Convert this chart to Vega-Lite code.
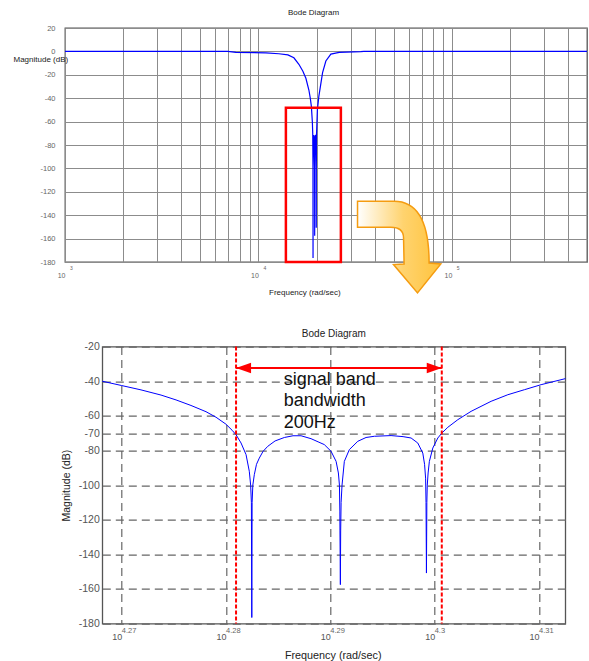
{
  "$schema": "https://vega.github.io/schema/vega-lite/v6.json",
  "background": "white",
  "padding": {"left": 12, "top": 7, "right": 2, "bottom": 2},
  "config": {
    "font": "Liberation Sans",
    "view": {"stroke": "#555555", "strokeWidth": 1.3},
    "axis": {"domain": false, "ticks": false, "tickSize": 0, "labelFlush": false, "labelOverlap": false, "titleFontWeight": "normal", "tickCount": 100},
    "title": {"fontWeight": "normal"}
  },
  "datasets": {
    "topCurve": [
      {"logw": 3.0, "db": 0}, {"logw": 3.8424, "db": 0}, {"logw": 3.8837, "db": -0.8}, {"logw": 4.0388, "db": -1.2},
      {"logw": 4.1059, "db": -2}, {"logw": 4.1525, "db": -3}, {"logw": 4.1835, "db": -5.5}, {"logw": 4.2093, "db": -11},
      {"logw": 4.23, "db": -17}, {"logw": 4.2455, "db": -23}, {"logw": 4.261, "db": -33}, {"logw": 4.2682, "db": -40},
      {"logw": 4.2739, "db": -47}, {"logw": 4.279, "db": -60.5}, {"logw": 4.2809, "db": -70}, {"logw": 4.2822, "db": -100},
      {"logw": 4.28247, "db": -176.5}, {"logw": 4.2828, "db": -100}, {"logw": 4.2845, "db": -75}, {"logw": 4.2865, "db": -71.5},
      {"logw": 4.2885, "db": -74}, {"logw": 4.2906, "db": -100}, {"logw": 4.29096, "db": -157.5}, {"logw": 4.2913, "db": -100},
      {"logw": 4.2935, "db": -73}, {"logw": 4.296, "db": -71.4}, {"logw": 4.298, "db": -74}, {"logw": 4.299, "db": -100},
      {"logw": 4.29921, "db": -150.8}, {"logw": 4.2995, "db": -100}, {"logw": 4.3007, "db": -70}, {"logw": 4.3049, "db": -50},
      {"logw": 4.3125, "db": -38.5}, {"logw": 4.3318, "db": -18.2}, {"logw": 4.3488, "db": -8.2}, {"logw": 4.3747, "db": -2.3},
      {"logw": 4.4176, "db": -0.8}, {"logw": 4.5297, "db": -0.2}, {"logw": 4.5452, "db": 0}, {"logw": 5.699, "db": 0}
    ],
    "bottomCurve": [
      {"logw": 4.26814, "db": -40}, {"logw": 4.27, "db": -42.5}, {"logw": 4.27185, "db": -45}, {"logw": 4.27377, "db": -48},
      {"logw": 4.27521, "db": -50.8}, {"logw": 4.27664, "db": -54}, {"logw": 4.27808, "db": -57.6}, {"logw": 4.27904, "db": -60.8},
      {"logw": 4.27999, "db": -64.8}, {"logw": 4.28058, "db": -68.3}, {"logw": 4.28096, "db": -70.9}, {"logw": 4.28144, "db": -75.7},
      {"logw": 4.28192, "db": -82.4}, {"logw": 4.28223, "db": -92}, {"logw": 4.28236, "db": -100}, {"logw": 4.28243, "db": -110},
      {"logw": 4.28247, "db": -176.5}, {"logw": 4.2825, "db": -110}, {"logw": 4.28257, "db": -100}, {"logw": 4.28271, "db": -94},
      {"logw": 4.28292, "db": -88}, {"logw": 4.28319, "db": -84.4}, {"logw": 4.28355, "db": -80.5}, {"logw": 4.284, "db": -77.6},
      {"logw": 4.2847, "db": -74.5}, {"logw": 4.28559, "db": -72.5}, {"logw": 4.28642, "db": -71.5}, {"logw": 4.28719, "db": -71.5},
      {"logw": 4.28815, "db": -73.2}, {"logw": 4.28882, "db": -75}, {"logw": 4.28942, "db": -76.6}, {"logw": 4.29007, "db": -80.5},
      {"logw": 4.29055, "db": -86.3}, {"logw": 4.29077, "db": -93}, {"logw": 4.29087, "db": -100}, {"logw": 4.29091, "db": -115},
      {"logw": 4.29092, "db": -126.5}, {"logw": 4.29096, "db": -157.5}, {"logw": 4.29099, "db": -126.5}, {"logw": 4.29103, "db": -110},
      {"logw": 4.29112, "db": -100}, {"logw": 4.29134, "db": -86.3}, {"logw": 4.29182, "db": -79.5}, {"logw": 4.29263, "db": -74.7},
      {"logw": 4.29342, "db": -72.5}, {"logw": 4.29422, "db": -71.8}, {"logw": 4.29582, "db": -71.4}, {"logw": 4.29697, "db": -72},
      {"logw": 4.29774, "db": -72.8}, {"logw": 4.29838, "db": -75.7}, {"logw": 4.29886, "db": -81.5}, {"logw": 4.29903, "db": -88},
      {"logw": 4.29913, "db": -96}, {"logw": 4.29917, "db": -110}, {"logw": 4.29919, "db": -130}, {"logw": 4.29921, "db": -150.8},
      {"logw": 4.29923, "db": -130}, {"logw": 4.29925, "db": -110}, {"logw": 4.29929, "db": -100}, {"logw": 4.29937, "db": -93},
      {"logw": 4.29949, "db": -86.3}, {"logw": 4.29982, "db": -78.6}, {"logw": 4.3003, "db": -72.8}, {"logw": 4.30068, "db": -70},
      {"logw": 4.30126, "db": -66.6}, {"logw": 4.30222, "db": -62.2}, {"logw": 4.30349, "db": -57.4}, {"logw": 4.30541, "db": -51.6},
      {"logw": 4.30701, "db": -47.8}, {"logw": 4.3086, "db": -44.9}, {"logw": 4.3102, "db": -42}, {"logw": 4.31253, "db": -38.5}
    ]
  },
  "bounds": "flush",
  "spacing": 84.6,
  "vconcat": [
    {
      "width": 522,
      "height": 234,
      "title": {"text": "Bode Diagram", "fontSize": 8, "color": "#222222", "frame": "group", "anchor": "middle", "baseline": "middle", "offset": 3.4, "dx": -12.5},
      "layer": [
        {
          "data": {"name": "topCurve"},
          "mark": {"type": "line", "color": "#0000ff", "strokeWidth": 1.2},
          "encoding": {
            "x": {"field": "logw", "type": "quantitative", "scale": {"domain": [3, 5.699], "nice": false, "zero": false},
              "axis": {"values": [3, 3.30103, 3.47712, 3.60206, 3.69897, 3.77815, 3.8451, 3.90309, 3.95424, 4, 4.30103, 4.47712, 4.60206, 4.69897, 4.77815, 4.8451, 4.90309, 4.95424, 5, 5.30103, 5.47712, 5.60206],
                "tickCount": 100, "grid": true, "gridColor": "#8c8c8c", "gridWidth": 1, "labelOverlap": false, "labelFlush": false,
                "labelExpr": "(datum.value == 3 || datum.value == 4 || datum.value == 5) ? '10' : ''",
                "labelFontSize": 7, "labelColor": "#666666", "labelAlign": "right", "labelBaseline": "middle", "labelPadding": 13, "labelDx": -1,
                "title": "Frequency  (rad/sec)", "titleFontSize": 8, "titleColor": "#222222", "titleX": 239.3, "titleY": 30, "titleBaseline": "middle", "titleAlign": "center"}},
            "y": {"field": "db", "type": "quantitative", "scale": {"domain": [-180, 20], "nice": false, "zero": false},
              "axis": {"values": [-180, -160, -140, -120, -100, -80, -60, -40, -20, 0, 20],
                "tickCount": 100, "grid": true, "gridColor": "#8c8c8c", "gridWidth": 1, "labelOverlap": false, "labelFlush": false,
                "labelExpr": "'' + datum.value", "labelFontSize": 7.5, "labelColor": "#666666", "labelPadding": 10, "labelBaseline": "middle",
                "title": "Magnitude (dB)", "titleAngle": 0, "titleX": -52, "titleY": 31.6, "titleAlign": "left", "titleBaseline": "middle", "titleFontSize": 8, "titleColor": "#222222"}}
          }
        },
        {
          "data": {"values": [{"logw": 4.1421, "logw2": 4.4264, "db": -48.1, "db2": -180}]},
          "mark": {"type": "rect", "fill": "transparent", "stroke": "#ff0000", "strokeWidth": 2.5},
          "encoding": {
            "x": {"field": "logw", "type": "quantitative", "scale": {"domain": [3, 5.699], "nice": false, "zero": false}},
            "x2": {"field": "logw2"},
            "y": {"field": "db", "type": "quantitative", "scale": {"domain": [-180, 20], "nice": false, "zero": false}},
            "y2": {"field": "db2"}
          }
        },
        {
          "data": {"values": [{"logw": 4.7276, "db": -167.4}]},
          "mark": {"type": "point", "filled": true, "opacity": 1,
            "shape": "M-0.885,-0.979L-0.106,-0.979Q0.638,-0.979 0.638,0.334L0.887,0.355L0.391,0.972L-0.119,0.368L0.106,0.355L0.094,-0.198Q0.094,-0.426 -0.177,-0.426L-0.885,-0.426Z",
            "size": 8836,
            "fill": {"gradient": "linear", "x1": 0, "y1": 0, "x2": 1, "y2": 0, "stops": [{"offset": 0, "color": "#ffffff"}, {"offset": 0.55, "color": "#ffd36e"}, {"offset": 1, "color": "#ffc33c"}]},
            "stroke": "#f59c10", "strokeWidth": 1.5},
          "encoding": {
            "x": {"field": "logw", "type": "quantitative", "scale": {"domain": [3, 5.699], "nice": false, "zero": false}},
            "y": {"field": "db", "type": "quantitative", "scale": {"domain": [-180, 20], "nice": false, "zero": false}}
          }
        },
        {
          "data": {"values": [{"logw": 3, "db": -180, "t": "3"}, {"logw": 4, "db": -180, "t": "4"}, {"logw": 5, "db": -180, "t": "5"}]},
          "mark": {"type": "text", "align": "left", "baseline": "middle", "dx": 5, "dy": 6, "fontSize": 5, "color": "#666666"},
          "encoding": {
            "x": {"field": "logw", "type": "quantitative", "scale": {"domain": [3, 5.699], "nice": false, "zero": false}},
            "y": {"field": "db", "type": "quantitative", "scale": {"domain": [-180, 20], "nice": false, "zero": false}},
            "text": {"field": "t"}
          }
        }
      ]
    },
    {
      "bounds": "flush",
      "spacing": 36.3,
      "hconcat": [
        {
          "width": 1,
          "height": 1,
          "view": {"stroke": null},
          "data": {"values": []},
          "mark": {"type": "point", "opacity": 0}
        },
        {
          "width": 463,
          "height": 277,
          "title": {"text": "Bode Diagram", "fontSize": 10, "color": "#222222", "frame": "group", "anchor": "middle", "baseline": "middle", "offset": -2.3},
          "layer": [
            {
              "data": {"name": "bottomCurve"},
              "mark": {"type": "line", "color": "#0000ff", "strokeWidth": 1},
              "encoding": {
                "x": {"field": "logw", "type": "quantitative", "scale": {"domain": [4.26814, 4.31252], "nice": false, "zero": false},
                  "axis": {"values": [4.27, 4.28, 4.29, 4.3, 4.31],
                    "tickCount": 100, "grid": true, "gridColor": "#666666", "gridWidth": 1.2, "gridDash": [8, 5], "labelOverlap": false, "labelFlush": false,
                    "labelExpr": "'10'", "labelFontSize": 9, "labelColor": "#555555", "labelAlign": "right", "labelBaseline": "middle", "labelPadding": 13, "labelDx": -0.5,
                    "title": "Frequency  (rad/sec)", "titleFontSize": 10.8, "titleColor": "#222222", "titleX": 230.4, "titleY": 31.7, "titleBaseline": "middle", "titleAlign": "center"}},
                "y": {"field": "db", "type": "quantitative", "scale": {"domain": [-180, -20], "nice": false, "zero": false},
                  "axis": {"values": [-180, -160, -140, -120, -100, -80, -70, -60, -40, -20],
                    "tickCount": 100, "grid": true, "gridColor": "#666666", "gridWidth": 1.2, "gridDash": [8, 5], "labelOverlap": false, "labelFlush": false,
                    "labelExpr": "'' + datum.value", "labelFontSize": 10.5, "labelColor": "#555555", "labelPadding": 3, "labelBaseline": "middle",
                    "title": "Magnitude (dB)", "titleAngle": -90, "titleX": -36.3, "titleY": 138.5, "titleAlign": "center", "titleBaseline": "middle", "titleFontSize": 10.5, "titleColor": "#222222"}}
              }
            },
            {
              "data": {"values": [{"logw": 4.28096}, {"logw": 4.30068}]},
              "mark": {"type": "rule", "color": "#ff0000", "strokeWidth": 2, "strokeDash": [4, 2]},
              "encoding": {
                "x": {"field": "logw", "type": "quantitative", "scale": {"domain": [4.26814, 4.31252], "nice": false, "zero": false}}
              }
            },
            {
              "data": {"values": [{"logw": 4.28096, "logw2": 4.30068, "db": -32.4}]},
              "mark": {"type": "rule", "color": "#ff0000", "strokeWidth": 2},
              "encoding": {
                "x": {"field": "logw", "type": "quantitative", "scale": {"domain": [4.26814, 4.31252], "nice": false, "zero": false}},
                "x2": {"field": "logw2"},
                "y": {"field": "db", "type": "quantitative", "scale": {"domain": [-180, -20], "nice": false, "zero": false}}
              }
            },
            {
              "data": {"values": [{"logw": 4.28096, "db": -32.4}]},
              "mark": {"type": "point", "filled": true, "opacity": 1, "color": "#ff0000", "shape": "M0,0L2,-0.7L2,0.7Z", "size": 225},
              "encoding": {
                "x": {"field": "logw", "type": "quantitative", "scale": {"domain": [4.26814, 4.31252], "nice": false, "zero": false}},
                "y": {"field": "db", "type": "quantitative", "scale": {"domain": [-180, -20], "nice": false, "zero": false}}
              }
            },
            {
              "data": {"values": [{"logw": 4.30068, "db": -32.4}]},
              "mark": {"type": "point", "filled": true, "opacity": 1, "color": "#ff0000", "shape": "M0,0L-2,-0.7L-2,0.7Z", "size": 225},
              "encoding": {
                "x": {"field": "logw", "type": "quantitative", "scale": {"domain": [4.26814, 4.31252], "nice": false, "zero": false}},
                "y": {"field": "db", "type": "quantitative", "scale": {"domain": [-180, -20], "nice": false, "zero": false}}
              }
            },
            {
              "data": {"values": [{"logw": 4.28553, "db": -41.97, "label": "signal band\nbandwidth\n200Hz"}]},
              "mark": {"type": "text", "align": "left", "baseline": "alphabetic", "fontSize": 18, "lineHeight": 21.5, "lineBreak": "\n", "color": "#111111"},
              "encoding": {
                "x": {"field": "logw", "type": "quantitative", "scale": {"domain": [4.26814, 4.31252], "nice": false, "zero": false}},
                "y": {"field": "db", "type": "quantitative", "scale": {"domain": [-180, -20], "nice": false, "zero": false}},
                "text": {"field": "label"}
              }
            },
            {
              "data": {"values": [{"logw": 4.27, "db": -180, "t": "4.27"}, {"logw": 4.28, "db": -180, "t": "4.28"}, {"logw": 4.29, "db": -180, "t": "4.29"}, {"logw": 4.3, "db": -180, "t": "4.3"}, {"logw": 4.31, "db": -180, "t": "4.31"}]},
              "mark": {"type": "text", "align": "left", "baseline": "middle", "dx": 0, "dy": 7.7, "fontSize": 7.5, "color": "#666666"},
              "encoding": {
                "x": {"field": "logw", "type": "quantitative", "scale": {"domain": [4.26814, 4.31252], "nice": false, "zero": false}},
                "y": {"field": "db", "type": "quantitative", "scale": {"domain": [-180, -20], "nice": false, "zero": false}},
                "text": {"field": "t"}
              }
            }
          ]
        }
      ]
    }
  ]
}
